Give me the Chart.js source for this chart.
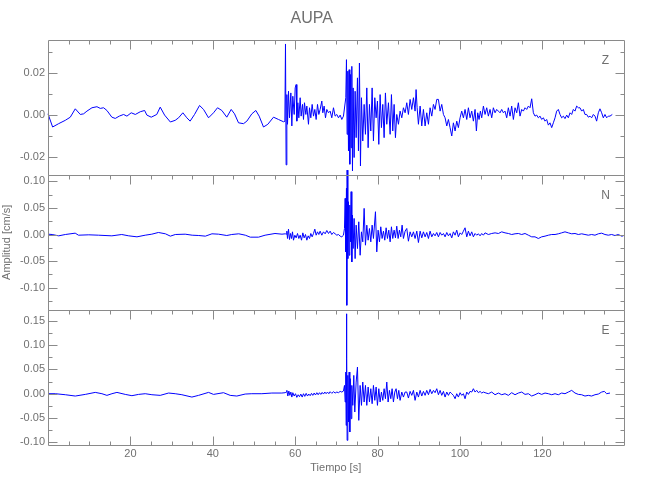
<!DOCTYPE html>
<html>
<head>
  <title>AUPA</title>
  <script src="https://cdn.jsdelivr.net/npm/chart.js"></script>
  <style>
    body { margin: 0; background: #fff; }
  </style>
</head>
<body>
  <canvas id="chart" width="650" height="500"></canvas>

  <script>
    // Z component (vertical), time in s, amplitude in cm/s
    const zTime = [
      0, 1.12, 2.58, 4.2, 5.41, 6.62, 7.84, 8.64, 9.45, 10.67,
      11.88, 12.69, 13.5, 14.3, 15.5, 16.33, 17.3, 18.35, 19.16, 20.2,
      21.2, 22.4, 23.45, 24.0, 25.06, 26.4, 27.24, 28.3, 29.7, 30.88,
      31.7, 32.74, 33.7, 34.5, 35.57, 36.79, 37.76, 38.97, 40.18, 41.15,
      42.2, 43.4, 44.47, 45.28, 46.25, 47.46, 48.27, 49.48, 50.45, 51.26,
      52.31, 53.36, 54.74, 55.95, 57.17, 57.5, 57.65, 57.8,
      57.98, 58.14, 58.38, 58.62, 58.95, 59.19, 59.43, 59.76, 60.0, 60.24,
      60.4, 60.65, 60.89, 61.21, 61.45, 61.78, 62.02, 62.26, 62.59, 62.83,
      63.23, 63.48, 63.8, 64.12, 64.45, 64.77, 65.09, 65.42, 65.74, 66.06,
      66.47, 66.71, 67.03, 67.36, 67.68, 68.09, 68.49, 68.89, 69.3, 69.7,
      70.11, 70.51, 70.92, 71.32, 71.72, 72.29, 72.45, 72.61, 72.78, 72.94,
      73.1, 73.26, 73.42, 73.58, 73.75, 73.91, 74.07, 74.31, 74.55, 74.8,
      75.12, 75.36, 75.6, 75.85, 76.09, 76.41, 76.74, 77.06, 77.39, 77.71,
      78.03, 78.36, 78.68, 79.0, 79.33, 79.65, 79.97, 80.3, 80.62, 80.94,
      81.27, 81.59, 81.91, 82.24, 82.64, 83.05, 83.37, 83.69, 84.02, 84.34,
      84.66, 85.07, 85.47, 85.88, 86.28,
      86.69, 87.09, 87.49, 87.9, 88.3, 88.71, 89.11, 89.35, 89.6, 89.92,
      90.33, 90.73, 91.13, 91.54, 91.94, 92.35, 92.75, 93.16, 93.56, 93.96,
      94.37, 94.77, 95.18, 95.58, 95.99, 96.39, 96.8, 97.2, 97.6, 98.01,
      98.41, 98.82, 99.22, 99.62, 100.03, 100.43, 100.84, 101.24, 101.65, 102.05,
      102.45, 102.86, 103.26, 103.67, 103.99, 104.31, 104.64, 104.96, 105.28, 105.69,
      106.09, 106.5, 106.9, 107.3, 107.71, 108.11, 108.52, 108.92, 109.33, 109.73,
      110.14, 110.54, 110.94, 111.35, 111.75, 112.16, 112.56, 112.97, 113.37, 113.78,
      114.18, 114.58, 114.99, 115.39, 115.8, 116.2, 116.61, 117.01, 117.42, 117.82,
      118.22, 118.63, 119.03, 119.44, 119.84, 120.25, 120.65, 121.05, 121.46, 121.86,
      122.27, 122.67, 123.08, 123.48, 123.88, 124.29, 124.69, 125.1, 125.5, 125.91,
      126.31, 126.72, 127.12, 127.52, 127.93, 128.33, 128.74, 129.14, 129.55, 129.95,
      130.35, 130.76, 131.16, 131.57, 131.97, 132.38, 132.78, 133.18, 133.59, 133.99,
      134.4, 134.8, 135.2, 135.61, 136.01, 136.42, 136.98
    ];
    const zAmp = [
      0.0006, -0.0057, -0.0041, -0.0025, -0.0010, 0.0030, 0.0003, 0.0006, 0.0019, 0.0035,
      0.0040, 0.0032, 0.0035, 0.0022, -0.0010, -0.0016, -0.0005, 0.0003, -0.0005, 0.0011,
      0.0003, 0.0016, 0.0022, 0, -0.0010, 0.0003, 0.0038, 0, -0.0033, -0.0025,
      -0.0013, 0.0011, -0.0013, -0.0029, 0.0003, 0.0046, 0.0027, -0.0013, 0.0011, 0.0035,
      0.0022, -0.0010, 0.0027, 0.0006, -0.0037, -0.0041, -0.0029, 0.0006, 0.0022, -0.0005,
      -0.0057, -0.0044, -0.0010, -0.0021, -0.0032, -0.0030, 0.0340, -0.0238,
      0.0098, -0.0044, 0.0114, -0.0013, 0.0106, -0.0052, 0.0090, 0.0003, 0.0130, 0.0146,
      -0.0029, 0.0059, -0.0013, 0.0083, -0.0005, 0.0051, -0.0021, 0.0059, 0.0003, 0.0043,
      -0.0044, 0.0035, -0.0013, 0.0051, -0.0005, 0.0027, -0.0021, 0.0051, 0.0003, 0.0027,
      0.0067, 0.0011, 0.0043, -0.0013, 0.0027, 0.0011, 0.0019, -0.0013, 0.0035, -0.0005,
      0.0003, -0.0013, 0, -0.0021, -0.0005, 0.0083, 0.0265, -0.0092, 0.0210, -0.0171,
      0.0217, -0.0235, 0.0194, -0.0156, 0.0233, -0.0267, 0.0130, -0.0203, 0.0114, -0.0108,
      0.0178, -0.0171, 0.0249, -0.0243, 0.0083, -0.0124, 0.0051, -0.0092, 0.0130, -0.0156,
      0.0051, -0.0076, 0.0130, -0.0124, 0.0083, -0.0013, 0.0067, -0.0140, 0.0098, -0.0060,
      0.0051, -0.0108, 0.0106, -0.0044, 0.0059, -0.0092, 0.0098, -0.0076, 0.0051, -0.0108,
      0.0003, -0.0044, 0.0019, -0.0013, 0.0035,
      0.0011, 0.0059, 0.0003, 0.0075, 0.0027, 0.0083, 0.0019, 0.0122, 0.0035, -0.0044,
      0.0043, -0.0052, 0.0027, -0.0052, 0.0011, -0.0044, 0.0035, -0.0005, 0.0051, 0.0027,
      0.0075, 0.0075, 0.0019, 0.0051, 0.0003, -0.0013, -0.0052, -0.0021, -0.0060, -0.0100,
      -0.0037, -0.0076, -0.0029, -0.0060, -0.0013, 0.0019, -0.0013, 0.0027, -0.0021, 0.0035,
      -0.0013, 0.0019, -0.0029, 0.0027, -0.0076, 0.0011, -0.0021, 0.0019, -0.0013, 0.0043,
      0.0003, 0.0035, -0.0005, 0.0027, -0.0013, 0.0035, 0.0011, 0.0027, 0.0019, 0.0011,
      0.0027, 0.0011, 0.0019, -0.0013, 0.0035, -0.0005, 0.0043, -0.0021, 0.0035, 0.0011,
      0.0059, -0.0005, 0.0027, 0.0019, 0.0035, 0.0027, 0.0043, 0.0035, 0.0078, 0.0011,
      -0.0005, 0, -0.0013, -0.0005, -0.0021, -0.0013, -0.0029, -0.0021, -0.0048, -0.0037,
      -0.0060, -0.0037, -0.0013, 0.0019, 0.0027, 0.0003, -0.0013, -0.0005, -0.0017, 0,
      -0.0013, 0.0011, 0.0003, 0.0027, 0.0019, 0.0043, 0.0035, 0.0035, 0.0019, 0.0027,
      0.0003, 0.0003, -0.0010, -0.0005, -0.0013, 0.0003, -0.0005, -0.0029, 0.0011, 0.0030,
      0.0011, -0.0013, 0.0003, -0.0013, -0.0005, -0.0005, 0.0003
    ];

    // N component
    const nTime = [
      0, 1.0, 2.6, 4.2, 6.6, 7.4, 9.9, 12.3, 15.5, 17.9,
      19.6, 21.6, 23.6, 25.2, 26.8, 28.5, 29.7, 30.9, 33.3, 35.0,
      36.6, 38.2, 39.8, 41.4, 43.4, 44.6, 46.3, 47.9, 49.1, 51.1,
      52.7, 55.1, 56.8, 57.6,
      57.82, 57.98, 58.14, 58.38, 58.62, 58.87, 59.11, 59.35, 59.59, 59.92,
      60.24, 60.57, 60.89, 61.21, 61.54, 61.86, 62.18, 62.51, 62.83, 63.15,
      63.48, 63.8, 64.12, 64.45, 64.77, 65.09, 65.42, 65.74, 66.06, 66.47,
      66.87, 67.28, 67.68, 68.09, 68.49, 68.89, 69.3, 69.7, 70.11, 70.51,
      70.92, 71.32, 71.72, 71.97, 72.13, 72.29, 72.45, 72.53, 72.61, 72.78,
      72.94, 73.1, 73.26, 73.42, 73.58, 73.75, 73.91, 74.07, 74.31, 74.55,
      74.8, 75.12, 75.44, 75.77, 76.09, 76.41, 76.74, 77.06, 77.39, 77.71,
      78.03, 78.36, 78.68, 79.0, 79.49, 79.81, 80.13, 80.46, 80.78, 81.1,
      81.43, 81.75, 82.08, 82.4, 82.72, 83.05, 83.37, 83.69, 84.02, 84.34,
      84.66, 84.99, 85.31, 85.63, 85.96, 86.28, 86.69,
      87.09, 87.49, 87.9, 88.3, 88.71, 89.11, 89.52, 89.92, 90.33, 90.73,
      91.13, 91.54, 91.94, 92.35, 92.75, 93.16, 93.56, 93.96, 94.37, 94.77,
      95.18, 95.58, 95.99, 96.39, 96.8, 97.2, 97.6, 98.01, 98.41, 98.82,
      99.22, 99.62, 100.03, 100.43, 100.84, 101.24, 101.65, 102.05, 102.45, 102.86,
      103.26, 103.67, 104.07, 104.48, 104.88, 105.29, 105.69, 106.09, 106.9, 107.71,
      108.52, 109.33, 110.14, 110.94, 111.75, 112.56, 113.37, 114.18, 114.99, 115.8,
      116.61, 117.42, 118.22, 119.03, 119.84, 120.65, 121.46, 122.27, 123.08, 123.88,
      124.69, 125.5, 126.31, 127.12, 127.93, 128.74, 129.55, 130.35, 131.16, 131.97,
      132.78, 133.59, 134.4, 135.2, 136.01, 136.82, 137.63, 138.44, 139.25, 139.65
    ];
    const nAmp = [
      0.0006, 0, -0.0025, 0, 0.0025, -0.0013, -0.0006, -0.0013, -0.0025, 0,
      -0.0025, -0.0044, -0.0013, 0.0006, 0.0038, 0.0013, -0.0031, 0, 0.0006, -0.0013,
      -0.0019, -0.0031, 0.0013, 0.0006, -0.0019, 0, 0.0013, -0.0013, -0.0050, -0.0050,
      -0.0013, 0.0019, 0.0006, 0.0013,
      0.0006, 0.0063, -0.0075, 0.0101, -0.0094, 0.0019, -0.0075, 0.0050, -0.0107, -0.0013,
      -0.0063, 0.0019, -0.0075, -0.0013, -0.0107, 0.0031, -0.0063, 0, -0.0107, -0.0025,
      -0.0075, 0.0019, -0.0044, 0.0019, 0.0101, -0.0013, 0.0050, 0, 0.0063, -0.0013,
      0.0050, 0.0013, 0.0075, 0.0019, 0.0063, 0, 0.0038, 0.0013, -0.0013, 0,
      -0.0031, -0.0044, -0.0013, 0.0113, 0.0679, -0.0327, 0.0868, -0.1330, 0.1210, -0.0453,
      0.0616, -0.0390, 0.0553, -0.0138, 0.0805, -0.0516, 0.0365, -0.0264, 0.0302, -0.0453,
      0.0176, -0.0264, 0.0239, -0.0390, 0.0050, -0.0138, 0.0491, -0.0201, 0.0176, -0.0107,
      0.0113, -0.0138, 0.0176, -0.0075, 0.0428, -0.0327, 0.0082, -0.0138, 0.0145, -0.0075,
      0.0063, -0.0107, 0.0126, -0.0075, 0.0082, -0.0138, 0.0145, -0.0075, 0.0082, -0.0063,
      0.0157, -0.0075, 0.0082, -0.0044, 0.0176, -0.0075, 0.0063,
      0.0113, -0.0126, 0.0050, -0.0044, 0.0050, -0.0075, 0.0063, -0.0151, 0.0063, -0.0063,
      0.0050, -0.0044, 0.0038, -0.0075, 0.0063, -0.0044, 0.0019, -0.0025, 0.0038, -0.0044,
      0.0038, -0.0013, 0.0019, -0.0044, 0.0038, -0.0025, 0.0019, -0.0063, 0.0050, -0.0013,
      0.0082, -0.0044, 0.0031, 0, 0.0063, 0.0126, -0.0044, 0.0063, -0.0025, 0.0050,
      -0.0044, 0.0019, -0.0013, 0.0013, -0.0025, 0.0019, -0.0013, 0.0031, 0, 0.0019,
      0.0031, 0.0019, 0.0050, 0.0031, 0.0019, 0, 0.0013, 0.0019, 0, 0.0019,
      -0.0013, -0.0044, -0.0044, -0.0075, -0.0044, -0.0031, -0.0013, 0, 0, 0.0013,
      0.0031, 0.0050, 0.0031, 0.0013, 0.0019, 0, 0.0013, 0, -0.0013, 0,
      -0.0013, 0.0013, 0.0025, 0, -0.0013, 0, -0.0019, 0, -0.0031, -0.0025
    ];

    // E component
    const eTime = [
      0, 1.77, 4.2, 6.62, 9.05, 11.47, 13.09, 14.3, 15.52, 16.73,
      18.75, 20.37, 21.99, 23.6, 25.22, 27.24, 29.27, 30.88, 32.5, 34.93,
      36.55, 38.97, 40.18, 42.61, 44.22, 45.84, 47.86, 49.48, 51.91, 54.34,
      56.76, 57.57,
      57.82, 57.98, 58.22, 58.46, 58.71, 58.95, 59.19, 59.43, 59.76, 60.08,
      60.4, 60.73, 61.05, 61.37, 61.7, 62.02, 62.34, 62.67, 62.99, 63.31,
      63.64, 63.96, 64.28, 64.61, 64.93, 65.26, 65.58, 65.9, 66.23, 66.55,
      66.87, 67.2, 67.52, 67.84, 68.17, 68.49, 68.89, 69.3, 69.7, 70.11,
      70.51, 70.92, 71.32, 71.72, 71.97, 72.13, 72.29, 72.37, 72.45, 72.53,
      72.61, 72.78, 72.94, 73.1, 73.26, 73.42, 73.58, 73.75, 73.99, 74.23,
      74.47, 74.8, 75.12, 75.44, 75.77, 76.09, 76.41, 76.74, 77.06, 77.39,
      77.71, 78.03, 78.36, 78.68, 79.0, 79.33, 79.65, 79.97, 80.3, 80.62,
      80.94, 81.27, 81.59, 81.91, 82.24, 82.56, 82.88, 83.21, 83.53, 83.85,
      84.18, 84.5, 84.83, 85.15, 85.47, 85.88, 86.28, 86.69,
      87.09, 87.49, 87.9, 88.3, 88.71, 89.11, 89.52, 89.92, 90.33, 90.73,
      91.13, 91.54, 91.94, 92.35, 92.75, 93.16, 93.56, 93.96, 94.37, 94.77,
      95.18, 95.58, 95.99, 96.39, 96.8, 97.2, 97.6, 98.01, 98.41, 98.82,
      99.22, 99.62, 100.03, 100.43, 100.84, 101.24, 101.65, 102.05, 102.45, 102.86,
      103.26, 103.67, 104.07, 104.48, 104.88, 105.29, 105.69, 106.09, 106.9, 107.71,
      108.52, 109.33, 110.14, 110.94, 111.75, 112.56, 113.37, 114.18, 114.99, 115.8,
      116.61, 117.42, 118.22, 119.03, 119.84, 120.65, 121.46, 122.27, 123.08, 123.88,
      124.69, 125.5, 126.31, 127.12, 127.93, 128.74, 129.55, 130.35, 131.16, 131.97,
      132.78, 133.59, 134.4, 135.04, 135.61, 136.42
    ];
    const eAmp = [
      0, 0, -0.0021, -0.0048, -0.0014, 0.0027, 0, -0.0034, 0, 0.0027,
      -0.0014, -0.0041, -0.0014, 0, -0.0021, -0.0034, 0.0014, 0, -0.0021, -0.0069,
      -0.0034, 0.0027, -0.0014, 0.0021, -0.0034, -0.0048, -0.0007, 0, 0, 0.0014,
      0.0014, 0.0021,
      0.0034, 0.0069, -0.0048, 0.0055, -0.0034, 0.0034, -0.0069, 0.0021, -0.0048, 0,
      -0.0075, -0.0021, -0.0062, -0.0007, -0.0069, 0, -0.0055, 0.0007, -0.0048, -0.0007,
      -0.0041, 0.0007, -0.0034, 0.0014, -0.0027, 0.0021, -0.0021, 0.0021, -0.0014, 0.0027,
      -0.0007, 0.0034, 0, 0.0034, 0, 0.0041, 0.0007, 0.0041, 0.0014, 0.0034,
      0.0021, 0.0048, 0.0034, 0.0055, 0.0171, -0.0171, 0.0446, -0.0652, 0.1646, 0.0720,
      -0.0960, 0.0377, -0.0583, 0.0446, -0.0789, 0.0309, -0.0514, 0.0171, -0.0240, 0.0377,
      -0.0377, 0.0240, 0.0549, -0.0549, 0.0171, -0.0240, 0.0240, -0.0171, 0.0171, -0.0240,
      0.0137, -0.0171, 0.0103, -0.0206, 0.0171, -0.0137, 0.0137, -0.0240, 0.0103, -0.0171,
      0.0034, -0.0137, 0.0103, -0.0103, 0.0240, -0.0171, 0.0069, -0.0103, 0.0103, -0.0171,
      0.0034, 0.0103, -0.0103, 0.0069, -0.0137, 0.0034, -0.0069, 0.0034,
      0.0034, -0.0089, 0.0048, -0.0034, 0.0069, -0.0137, 0.0034, -0.0069, 0.0069, -0.0048,
      0.0048, -0.0034, 0.0069, -0.0021, 0.0089, 0, 0.0069, 0.0021, 0.0103, -0.0021,
      0.0069, -0.0034, 0.0048, -0.0069, 0.0034, -0.0034, 0.0034, 0, -0.0034, -0.0103,
      0, -0.0069, 0.0021, -0.0034, 0, -0.0103, 0.0034, -0.0014, 0.0048, 0.0034,
      0.0103, 0.0034, 0.0069, 0.0021, 0.0048, 0.0014, 0.0034, 0.0021, 0, 0.0034,
      -0.0021, 0.0014, -0.0021, 0, -0.0034, 0.0021, -0.0021, 0.0014, 0.0034, -0.0014,
      0, -0.0048, -0.0021, 0.0014, -0.0014, 0.0014, 0, -0.0021, 0, -0.0021,
      0.0014, 0, 0.0034, 0.0069, 0.0014, -0.0014, -0.0021, -0.0048, -0.0034, -0.0048,
      -0.0021, -0.0007, 0.0034, 0.0048, 0, 0.0014
    ];

    // axis ranges and ticks
    const timeRange = [0, 139.7];
    const timeTicks = [20, 40, 60, 80, 100, 120];
    const timeMinor = [5, 10, 15, 25, 30, 35, 45, 50, 55, 65, 70, 75, 85, 90, 95, 105, 110, 115, 125, 130, 135];

    const zRange = [-0.0286, 0.0359];
    const zTicks = [-0.02, 0, 0.02];
    const zMinor = [-0.01, 0.01, 0.03];
    const nRange = [-0.1415, 0.112];
    const nTicks = [-0.1, -0.05, 0, 0.05, 0.1];
    const nMinor = [-0.125, -0.075, -0.025, 0.025, 0.075];
    const eRange = [-0.105, 0.1728];
    const eTicks = [-0.1, -0.05, 0, 0.05, 0.1, 0.15];
    const eMinor = [-0.075, -0.025, 0.025, 0.075, 0.125];

    const traceColor = '#0000ff';
    const axisColor = '#8a8a8a';
    const textColor = '#707070';
    const fontFamily = "'Liberation Sans', Arial, sans-serif";

    Chart.defaults.font.family = fontFamily;
    Chart.defaults.color = textColor;

    const panels = [
      { id: 'yZ', name: 'Z', ticks: zTicks, minor: zMinor },
      { id: 'yN', name: 'N', ticks: nTicks, minor: nMinor },
      { id: 'yE', name: 'E', ticks: eTicks, minor: eMinor }
    ];

    function trace(times, amps) {
      return times.map((t, i) => ({ x: t, y: amps[i] }));
    }

    function panelScale(range, ticks, weight, title) {
      return {
        type: 'linear',
        position: 'left',
        stack: 'traces',
        stackWeight: 1,
        weight: weight,
        min: range[0],
        max: range[1],
        grid: { display: false, drawTicks: false },
        border: { display: false },
        afterBuildTicks: s => { s.ticks = ticks.map(v => ({ value: v })); },
        ticks: {
          color: textColor,
          font: { size: 11 },
          padding: 3,
          autoSkip: false,
          callback: v => v.toFixed(2)
        },
        title: title ? {
          display: true, text: title, color: textColor,
          font: { size: 11 }, padding: { top: 0, bottom: 0 }
        } : { display: false },
        afterFit: s => { s.width = 48; s.paddingTop = 0; s.paddingBottom = 0; }
      };
    }

    // frame, inward tick marks and component letters for each panel
    const panelFrame = {
      id: 'panelFrame',
      afterDatasetsDraw(chart) {
        const { ctx, chartArea: area, scales } = chart;
        const x = scales.x;
        const left = Math.round(area.left) + 0.5;
        const right = Math.round(area.right) + 0.5;
        ctx.save();
        ctx.strokeStyle = axisColor;
        ctx.lineWidth = 1;
        panels.forEach((p, k) => {
          const s = scales[p.id];
          const top = Math.round(s.top) + 0.5;
          const bottom = Math.round(s.bottom) + 0.5;
          ctx.beginPath();
          ctx.rect(left, top, right - left, bottom - top);
          timeTicks.concat(timeMinor).forEach(v => {
            const px = Math.round(x.getPixelForValue(v)) + 0.5;
            const len = timeTicks.includes(v) ? 9 : 4;
            ctx.moveTo(px, top);
            ctx.lineTo(px, top + len);
            if (k === panels.length - 1) {
              ctx.moveTo(px, bottom);
              ctx.lineTo(px, bottom - len);
            }
          });
          p.ticks.concat(p.minor).forEach(v => {
            const py = Math.round(s.getPixelForValue(v)) + 0.5;
            const len = p.ticks.includes(v) ? 9 : 4;
            ctx.moveTo(left, py);
            ctx.lineTo(left + len, py);
            ctx.moveTo(right, py);
            ctx.lineTo(right - len, py);
          });
          ctx.stroke();

          ctx.fillStyle = textColor;
          ctx.font = '12px ' + fontFamily;
          ctx.textAlign = 'center';
          ctx.textBaseline = 'middle';
          ctx.fillText(p.name, area.right - 18, s.top + 21);
        });
        ctx.restore();
      }
    };

    const lineStyle = {
      borderColor: traceColor,
      borderWidth: 1,
      pointRadius: 0,
      tension: 0,
      borderJoinStyle: 'round',
      clip: false
    };

    new Chart(document.getElementById('chart'), {
      type: 'line',
      data: {
        datasets: [
          Object.assign({ label: 'Z', data: trace(zTime, zAmp), yAxisID: 'yZ' }, lineStyle),
          Object.assign({ label: 'N', data: trace(nTime, nAmp), yAxisID: 'yN' }, lineStyle),
          Object.assign({ label: 'E', data: trace(eTime, eAmp), yAxisID: 'yE' }, lineStyle)
        ]
      },
      options: {
        responsive: false,
        animation: false,
        events: [],
        layout: { padding: { left: 0, right: 26.5, top: 0, bottom: 0 } },
        plugins: {
          legend: { display: false },
          tooltip: { enabled: false },
          title: {
            display: true,
            text: 'AUPA',
            color: textColor,
            font: { size: 16, weight: 'normal' },
            padding: { top: 8.5, bottom: 12.3 }
          }
        },
        scales: {
          x: {
            type: 'linear',
            position: 'bottom',
            min: timeRange[0],
            max: timeRange[1],
            grid: { display: false, drawTicks: false },
            border: { display: false },
            afterBuildTicks: s => { s.ticks = timeTicks.map(v => ({ value: v })); },
            ticks: { color: textColor, font: { size: 11 }, padding: 3, maxRotation: 0, autoSkip: false },
            title: {
              display: true, text: 'Tiempo [s]', color: textColor,
              font: { size: 11 }, padding: { top: 0, bottom: 25 }
            },
            afterFit: s => { s.height = 55.3; s.paddingLeft = 0; s.paddingRight = 0; }
          },
          yZ: panelScale(zRange, zTicks, 3, null),
          yN: panelScale(nRange, nTicks, 2, 'Amplitud [cm/s]'),
          yE: panelScale(eRange, eTicks, 1, null)
        }
      },
      plugins: [panelFrame]
    });
  </script>
</body>
</html>
